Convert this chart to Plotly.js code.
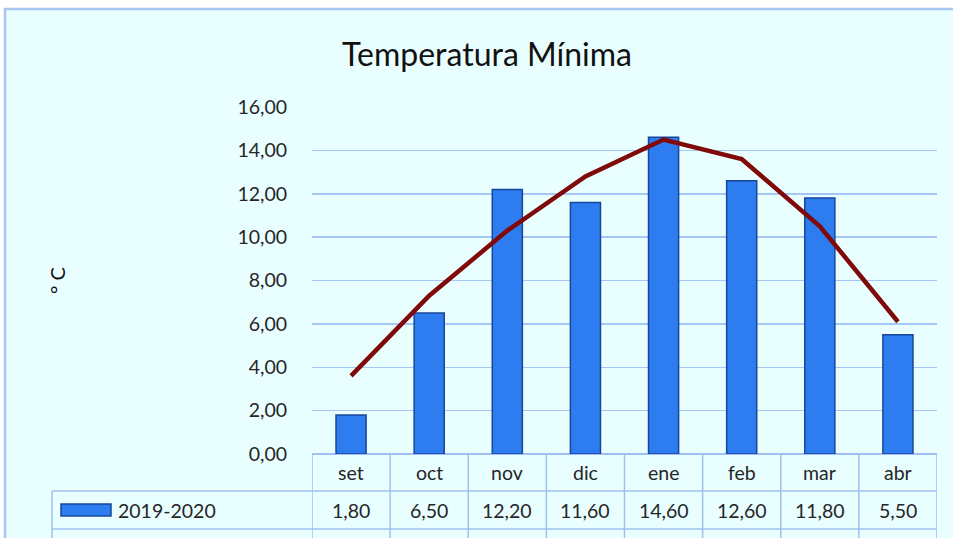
<!DOCTYPE html>
<html>
<head>
<meta charset="utf-8">
<script src="https://cdn.plot.ly/plotly-3.0.1.min.js"></script>
<style>
html,body{margin:0;padding:0;background:#ffffff;}
#chart{width:953px;height:538px;}
</style>
</head>
<body>
<div id="chart"></div>
<script>
const months = ["set","oct","nov","dic","ene","feb","mar","abr"];
const seriesName = "2019-2020";
const tmin2019 = [1.80, 6.50, 12.20, 11.60, 14.60, 12.60, 11.80, 5.50];
const promedio = [3.6, 7.3, 10.3, 12.8, 14.5, 13.6, 10.5, 6.1];
const yTickVals = [0, 2, 4, 6, 8, 10, 12, 14, 16];

const W = 953, H = 538;
const L = 312, R = 16, T = 107, B = 84;
const plotW = W - L - R, plotH = H - T - B;
const px = x => (x - L) / plotW;
const py = y => (H - B - y) / plotH;

const fmt = v => v.toFixed(2).replace('.', ',');
const FONT = "Lato, 'Open Sans', sans-serif";
const txtColor = "#262626";
const gridColor = "#a6c6f3";
const tableColor = "#9fc0f0";

const bars = {
  type: "bar", x: months, y: tmin2019, name: seriesName,
  marker: {color: "#2d7cf0", line: {color: "#17479a", width: 1.5}},
  hoverinfo: "x+y"
};
const line = {
  type: "scatter", mode: "lines", x: months, y: promedio, name: "Promedio",
  line: {color: "#800a0a", width: 4.5}
};

const shapes = [];
// background panel
shapes.push({type:"rect", xref:"paper", yref:"paper", layer:"below",
  x0: px(5), x1: px(960), y0: py(545), y1: py(9),
  fillcolor:"#e9fefe", line:{color:"#a9c6f2", width:2.5}});
// table vertical lines at category boundaries
for (let i = 0; i <= months.length; i++) {
  shapes.push({type:"line", xref:"x", yref:"paper", x0: i - 0.5, x1: i - 0.5,
    y0: 0, y1: py(545), line:{color: tableColor, width:1.5}});
}
// table left edge for series rows
shapes.push({type:"line", xref:"paper", yref:"paper", x0: px(52), x1: px(52),
  y0: py(491), y1: py(545), line:{color: tableColor, width:1.5}});
// horizontal row lines
[491, 529].forEach(y => shapes.push({type:"line", xref:"paper", yref:"paper",
  x0: px(52), x1: 1, y0: py(y), y1: py(y), line:{color: tableColor, width:1.5}}));
// legend key
shapes.push({type:"rect", xref:"paper", yref:"paper",
  x0: px(61), x1: px(111), y0: py(516), y1: py(504),
  fillcolor:"#2d7cf0", line:{color:"#17479a", width:1.5}});

const annotations = [];
months.forEach((m, i) => {
  annotations.push({xref:"x", yref:"paper", x: m, y: py(472), text: m, showarrow:false,
    font:{family: FONT, size: 19.5, color: txtColor}, xanchor:"center", yanchor:"middle"});
  annotations.push({xref:"x", yref:"paper", x: m, y: py(510), text: fmt(tmin2019[i]), showarrow:false,
    font:{family: FONT, size: 19.5, color: txtColor}, xanchor:"center", yanchor:"middle"});
});
annotations.push({xref:"paper", yref:"paper", x: px(116), y: py(510), text: seriesName, showarrow:false,
  font:{family: FONT, size: 19.5, color: txtColor}, xanchor:"left", yanchor:"middle"});

const layout = {
  width: W, height: H,
  margin: {l: L, r: R, t: T, b: B, pad: 0},
  paper_bgcolor: "#ffffff",
  plot_bgcolor: "rgba(0,0,0,0)",
  separators: ",.",
  showlegend: false,
  bargap: 0.615,
  title: {text: "Temperatura Mínima", font:{family: FONT, size: 32, color: "#111111"},
    x: 0.511, xanchor: "center", y: 1 - 55/H, yanchor: "middle"},
  xaxis: {type:"category", range:[-0.5, months.length - 0.5], showticklabels:false,
    showgrid:false, zeroline:false, showline:false, ticks:"", fixedrange:true},
  yaxis: {range:[0, 16], tickvals: yTickVals, tickformat: ".2f",
    tickfont:{family: FONT, size: 19.5, color: txtColor},
    ticks:"outside", ticklen: 20, tickcolor:"rgba(0,0,0,0)",
    showgrid:true, gridcolor: gridColor, gridwidth: 1.5,
    zeroline:true, zerolinecolor: tableColor, zerolinewidth: 1.5,
    showline:false, automargin:false,
    title:{text:"° C", font:{family: FONT, size: 20, color: "#111111"}, standoff: 166}},
  shapes: shapes,
  annotations: annotations
};

Plotly.newPlot("chart", [bars, line], layout, {displayModeBar:false, staticPlot:true});
</script>
</body>
</html>
